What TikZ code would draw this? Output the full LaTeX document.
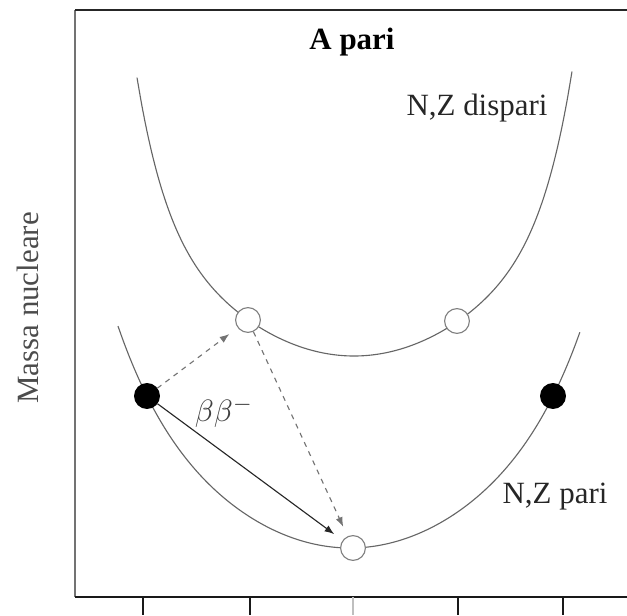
\documentclass[tikz,border=0pt]{standalone}
\usepackage{fontspec}
\setmainfont{Liberation Serif}
\usetikzlibrary{arrows.meta}

\begin{document}
\begin{tikzpicture}[x=0.0125cm,y=-0.0125cm,
  opendot/.style={circle,draw=black!50,fill=white,thin,minimum size=0.31cm,inner sep=0pt},
  fulldot/.style={circle,draw=black,fill=black,minimum size=0.31cm,inner sep=0pt},
  parab/.style={black!60,thin},
  decay/.style={black!55,thin,dash pattern=on 1.8pt off 1.8pt,-{Latex[length=1.2mm,width=0.9mm]},shorten >=1.3mm},
  nztext/.style={font=\fontsize{11}{13}\selectfont,text=black!85,inner sep=0pt}]
\useasboundingbox (0,0) rectangle (627,615);

% frame and axis
\draw[black!55,line width=0.7pt] (75,10) -- (75,597);
\draw[black!85,line width=0.7pt] (75,10) -- (627,10);
\draw[black!90,line width=1pt] (75,597) -- (627,597);
\foreach \x in {143,250,458,563}
  \draw[black!90,line width=0.8pt] (\x,597) -- (\x,615);
\draw[black!25,line width=0.8pt] (353,597) -- (353,615);

% mass parabolas
\draw[parab] plot[domain=-2.17:2.18,samples=90,smooth] ({354+100*\x},{356-31.92*\x*\x-0.2605*(\x*\x)^4});
\draw[parab] plot[domain=-2.32:2.30,samples=90,smooth] ({350+100*\x},{548-30.63*\x*\x-0.3656*(\x*\x)^3});

% nuclei
\node[opendot] (oddL) at (248,320) {};
\node[opendot] (oddR) at (457,321) {};
\node[fulldot] (evenL) at (147,396) {};
\node[fulldot] (evenR) at (553,396) {};
\node[opendot] (evenC) at (353,548) {};

% decays
\draw[decay] (evenL) -- (oddL);
\draw[decay] (oddL) -- (evenC);
\draw[decay,solid,black!85] (evenL) -- (evenC);

% labels
\node[font=\bfseries\fontsize{11}{13}\selectfont] (title) at (352,42) {A pari};
\node[nztext] (odd) at (477,108) {N,Z dispari};
\node[nztext] (even) at (555,497) {N,Z pari};
\node[nztext,rotate=90,text=black!70] (mass) at (28,308) {Massa nucleare};
\node[nztext,text=black!75] (bb) at (224,412) {$\beta\beta^{-}$};

\end{tikzpicture}
\end{document}
